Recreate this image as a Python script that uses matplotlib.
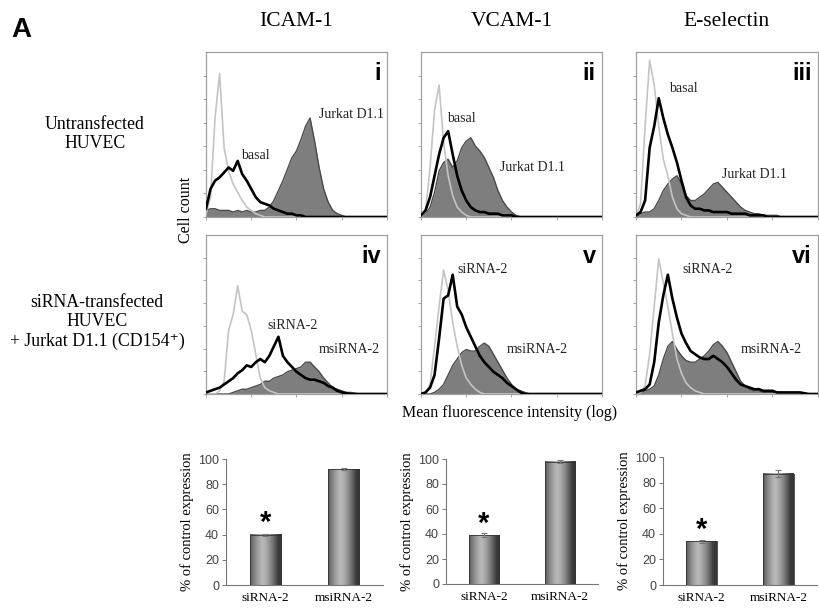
import numpy as np
import matplotlib.pyplot as plt

# log10 fluorescence, bins of 0.1 decade (10^0 .. 10^4)
log_fl = np.round(np.arange(0, 4.01, 0.1), 1)

def pad(vals):
    return np.array(vals + [0] * (41 - len(vals)), dtype=float)

# panel i - ICAM-1, untransfected
iso_i = pad([0.02, 0.12, 0.60, 0.87, 0.42, 0.28, 0.20, 0.15, 0.10, 0.06, 0.04, 0.02, 0.01])
basal_i = pad([0.05, 0.17, 0.22, 0.24, 0.27, 0.30, 0.28, 0.34, 0.26, 0.22, 0.17, 0.12, 0.09, 0.08,
               0.07, 0.05, 0.04, 0.03, 0.02, 0.02, 0.01, 0.01])
jurkat_i = pad([0.04, 0.05, 0.05, 0.04, 0.04, 0.04, 0.03, 0.04, 0.03, 0.04, 0.03, 0.03, 0.04, 0.04,
                0.06, 0.10, 0.16, 0.22, 0.29, 0.36, 0.40, 0.47, 0.55, 0.60, 0.46, 0.30, 0.17, 0.09,
                0.04, 0.02, 0.01])
# panel ii - VCAM-1, untransfected
iso_ii = pad([0, 0.03, 0.30, 0.65, 0.80, 0.45, 0.25, 0.13, 0.06, 0.03, 0.01])
basal_ii = pad([0.01, 0.04, 0.12, 0.25, 0.38, 0.48, 0.52, 0.38, 0.25, 0.16, 0.10, 0.06, 0.04, 0.03,
                0.03, 0.02, 0.02, 0.02, 0.01, 0.01, 0.01])
jurkat_ii = pad([0, 0.02, 0.06, 0.15, 0.28, 0.33, 0.35, 0.30, 0.34, 0.42, 0.46, 0.48, 0.43, 0.40,
                 0.36, 0.30, 0.24, 0.16, 0.10, 0.06, 0.03, 0.01])
# panel iii - E-selectin, untransfected
iso_iii = pad([0, 0.08, 0.55, 0.95, 0.80, 0.55, 0.35, 0.25, 0.12, 0.05, 0.02, 0.01])
basal_iii = pad([0.01, 0.03, 0.10, 0.42, 0.55, 0.72, 0.60, 0.50, 0.42, 0.33, 0.22, 0.12, 0.07, 0.05,
                 0.05, 0.04, 0.04, 0.03, 0.03, 0.03, 0.03, 0.02, 0.02, 0.02, 0.02, 0.01, 0.01, 0.01,
                 0.01])
jurkat_iii = pad([0, 0.02, 0.03, 0.03, 0.05, 0.10, 0.16, 0.20, 0.23, 0.25, 0.20, 0.13, 0.10, 0.10,
                  0.12, 0.14, 0.17, 0.20, 0.21, 0.18, 0.15, 0.12, 0.09, 0.06, 0.04, 0.03, 0.02,
                  0.02, 0.01, 0.01, 0.01, 0.01])
# panel iv - ICAM-1, siRNA
iso_iv = pad([0, 0, 0, 0.02, 0.08, 0.40, 0.50, 0.68, 0.52, 0.50, 0.40, 0.25, 0.10, 0.04, 0.02, 0.01])
sirna_iv = pad([0.01, 0.02, 0.03, 0.04, 0.06, 0.08, 0.10, 0.13, 0.15, 0.18, 0.17, 0.20, 0.22, 0.20,
                0.24, 0.30, 0.36, 0.24, 0.20, 0.17, 0.14, 0.12, 0.10, 0.09, 0.09, 0.08, 0.07, 0.05,
                0.04, 0.02, 0.01, 0.005])
msirna_iv = pad([0, 0, 0, 0, 0, 0, 0.01, 0.02, 0.03, 0.03, 0.04, 0.05, 0.06, 0.08, 0.08, 0.10, 0.11,
                 0.12, 0.14, 0.15, 0.16, 0.17, 0.20, 0.20, 0.17, 0.14, 0.10, 0.07, 0.04, 0.03, 0.02,
                 0.01, 0.01, 0.005])
# panel v - VCAM-1, siRNA
iso_v = pad([0, 0.01, 0.06, 0.30, 0.55, 0.78, 0.65, 0.45, 0.30, 0.18, 0.10, 0.06, 0.03, 0.01])
sirna_v = pad([0, 0.01, 0.04, 0.12, 0.35, 0.60, 0.62, 0.75, 0.55, 0.50, 0.42, 0.36, 0.30, 0.24,
               0.20, 0.17, 0.14, 0.12, 0.10, 0.07, 0.05, 0.03, 0.01])
msirna_v = pad([0, 0, 0, 0.01, 0.03, 0.06, 0.12, 0.18, 0.22, 0.26, 0.28, 0.27, 0.27, 0.30, 0.32,
                0.30, 0.25, 0.20, 0.15, 0.10, 0.06, 0.03, 0.02, 0.01])
# panel vi - E-selectin, siRNA
iso_vi = pad([0, 0.01, 0.05, 0.25, 0.55, 0.85, 0.70, 0.55, 0.38, 0.22, 0.13, 0.07, 0.04, 0.02, 0.01])
sirna_vi = pad([0.01, 0.02, 0.03, 0.06, 0.20, 0.45, 0.62, 0.75, 0.60, 0.48, 0.38, 0.32, 0.27, 0.25,
                0.23, 0.22, 0.22, 0.24, 0.22, 0.20, 0.17, 0.13, 0.09, 0.06, 0.05, 0.04, 0.03, 0.03,
                0.02, 0.02, 0.02, 0.01, 0.01, 0.01, 0.01, 0.01, 0.01, 0.005])
msirna_vi = pad([0, 0.01, 0.02, 0.03, 0.05, 0.12, 0.22, 0.30, 0.33, 0.28, 0.24, 0.21, 0.20, 0.20,
                 0.22, 0.24, 0.27, 0.31, 0.33, 0.30, 0.26, 0.20, 0.14, 0.08, 0.05, 0.03, 0.02, 0.02,
                 0.01, 0.01, 0.01, 0.01, 0.005])

panel_ids = ['i', 'ii', 'iii', 'iv', 'v', 'vi']
iso_curves = [iso_i, iso_ii, iso_iii, iso_iv, iso_v, iso_vi]
black_curves = [basal_i, basal_ii, basal_iii, sirna_iv, sirna_v, sirna_vi]
filled_curves = [jurkat_i, jurkat_ii, jurkat_iii, msirna_iv, msirna_v, msirna_vi]
black_names = ['basal'] * 3 + ['siRNA-2'] * 3
filled_names = ['Jurkat D1.1'] * 3 + ['msiRNA-2'] * 3

markers = ['ICAM-1', 'VCAM-1', 'E-selectin']
bar_cats = ['siRNA-2', 'msiRNA-2']
pct_icam = [40, 92]
pct_vcam = [39, 98]
pct_esel = [34, 87]
err_icam = [0.8, 0.6]
err_vcam = [1.5, 1.0]
err_esel = [1.5, 2.5]

SERIF = ['Liberation Serif', 'DejaVu Serif']
SANS = ['Liberation Sans', 'DejaVu Sans']

W, H = 820, 615
fig = plt.figure(figsize=(W / 100, H / 100), dpi=100)

def px_axes(x0, y0, x1, y1):
    # box given in pixels from top-left
    return fig.add_axes([x0 / W, 1 - y1 / H, (x1 - x0) / W, (y1 - y0) / H])

col_x = [(206, 387), (421, 602), (636, 818)]
row_y = [(52, 217), (235, 394)]

# text positions inside the histograms (data coords)
black_lbl = [(1.1, 0.37, 'center'), (0.9, 0.60, 'center'), (1.03, 0.78, 'center'),
             (1.92, 0.43, 'center'), (1.35, 0.78, 'center'), (1.58, 0.78, 'center')]
fill_lbl = [(2.5, 0.62, 'left'), (1.75, 0.30, 'left'), (1.9, 0.26, 'left'),
            (3.17, 0.28, 'center'), (2.56, 0.28, 'center'), (2.98, 0.28, 'center')]

for k in range(6):
    r, c = divmod(k, 3)
    ax = px_axes(col_x[c][0], row_y[r][0], col_x[c][1], row_y[r][1])
    ax.fill_between(log_fl, filled_curves[k], color='#7e7e7e', lw=0, zorder=1)
    ax.plot(log_fl, filled_curves[k], color='#4a4a4a', lw=1.0, zorder=2)
    ax.plot(log_fl, iso_curves[k], color='#c4c4c4', lw=1.2, zorder=3)
    ax.plot(log_fl, black_curves[k], color='black', lw=1.9, zorder=4)
    ax.set_xlim(0, 4)
    ax.set_ylim(0, 1)
    ax.set_xticks(range(5))
    ax.set_yticks(np.linspace(0, 1, 8)[:-1])
    ax.tick_params(length=2, width=0.6, colors='#999999', labelleft=False, labelbottom=False)
    for s in ax.spines.values():
        s.set_color('#a0a0a0')
        s.set_linewidth(0.9)
    ax.text(0.965, 0.94, panel_ids[k], transform=ax.transAxes, ha='right', va='top',
            fontsize=17, fontweight='bold', family=SANS)
    bx, by, bha = black_lbl[k]
    ax.text(bx, by, black_names[k], ha=bha, va='center', fontsize=10, family=SERIF, color='#222222')
    fx, fy, fha = fill_lbl[k]
    ax.text(fx, fy, filled_names[k], ha=fha, va='center', fontsize=10, family=SERIF, color='#222222')

# column titles and side labels
for c, name in enumerate(markers):
    fig.text((col_x[c][0] + col_x[c][1]) / 2 / W, 1 - 22 / H, name, ha='center', va='center',
             fontsize=15.5, family=SERIF)
fig.text(11 / W, 1 - 30 / H, 'A', ha='left', va='center', fontsize=20, fontweight='bold', family=SANS)
fig.text(95 / W, 1 - 134 / H, 'Untransfected\nHUVEC', ha='center', va='center', fontsize=12.8,
         family=SERIF, linespacing=1.2)
fig.text(97 / W, 1 - 322 / H, 'siRNA-transfected\nHUVEC\n+ Jurkat D1.1 (CD154\u207a)', ha='center',
         va='center', fontsize=12.8, family=SERIF, linespacing=1.2)
fig.text(186 / W, 1 - 210 / H, 'Cell count', rotation=90, ha='center', va='center', fontsize=11.5,
         family=SERIF)
fig.text(510 / W, 1 - 413 / H, 'Mean fluorescence intensity (log)', ha='center', va='center',
         fontsize=11.5, family=SERIF)

# bar charts
bar_boxes = [(226, 459, 383, 585), (446, 459, 598, 584), (663, 457, 817, 585)]
bar_vals = [pct_icam, pct_vcam, pct_esel]
bar_errs = [err_icam, err_vcam, err_esel]
shade = np.abs(np.linspace(-1, 1, 64) + 0.2)
grad = (0.72 - 0.5 * np.clip(shade, 0, 1) ** 1.4).reshape(1, -1)
bw = 0.4
for b in range(3):
    ax = px_axes(*bar_boxes[b])
    pos = np.arange(len(bar_cats)) + 0.5
    for x, v in zip(pos, bar_vals[b]):
        ax.imshow(grad, extent=[x - bw / 2, x + bw / 2, 0, v], aspect='auto', cmap='gray',
                  vmin=0, vmax=1, zorder=2, interpolation='bilinear')
    ax.bar(pos, bar_vals[b], width=bw, facecolor='none', edgecolor='#333333', lw=0.6, zorder=3)
    ax.errorbar(pos, bar_vals[b], yerr=bar_errs[b], fmt='none', ecolor='#777777', elinewidth=0.8,
                capsize=2, capthick=0.8, zorder=4)
    ax.text(pos[0], bar_vals[b][0] + 3, '*', ha='center', va='baseline', fontsize=21,
            fontweight='bold', family=SANS)
    ax.set_xlim(0, 2)
    ax.set_ylim(0, 100)
    ax.set_xticks(pos)
    ax.set_xticklabels(bar_cats, family=SERIF, fontsize=9.5)
    ax.set_yticks(range(0, 101, 20))
    ax.set_yticklabels([str(t) for t in range(0, 101, 20)], family=SANS, fontsize=9, color='#444444')
    ax.tick_params(axis='x', length=0, pad=5)
    ax.tick_params(axis='y', length=3, width=0.7, color='#777777', pad=2)
    ax.spines['top'].set_visible(False)
    ax.spines['right'].set_visible(False)
    ax.spines['left'].set_color('#777777')
    ax.spines['bottom'].set_color('#777777')
    ax.set_ylabel('% of control expression', family=SERIF, fontsize=10.5, labelpad=3)

fig.savefig('out.png', dpi=100)
